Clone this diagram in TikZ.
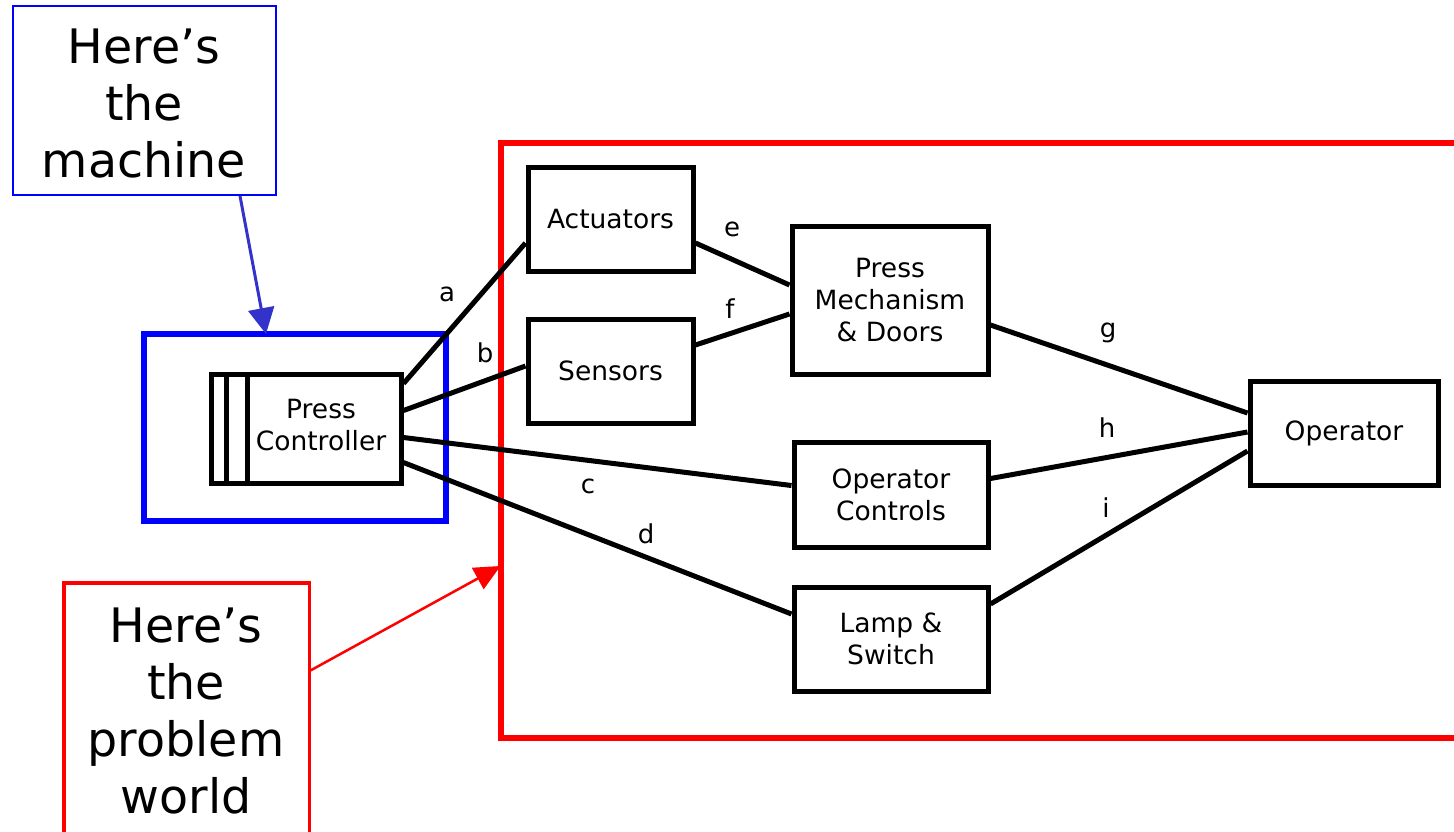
\documentclass[tikz,border=0pt]{standalone}
\usepackage{fontspec}
\setmainfont{DejaVu Sans}
\usetikzlibrary{calc,arrows.meta}
\definecolor{mblue}{RGB}{0,0,255}
\definecolor{arrblue}{RGB}{51,51,204}
\definecolor{mred}{RGB}{255,0,0}
\tikzset{
  box/.style={draw=black, line width=5pt, fill=white, align=center,
    font=\fontsize{26.5}{32}\selectfont, inner sep=0pt},
  link/.style={line width=5pt, black},
  lbl/.style={font=\fontsize{26}{30}\selectfont, inner sep=0pt},
  callout/.style={align=center, font=\fontsize{47.5}{57}\selectfont, inner sep=0pt},
}
\begin{document}
\begin{tikzpicture}[x=1pt,y=-1pt]
\useasboundingbox (0,0) rectangle (1454,831);
\clip (0,0) rectangle (1454,831);

% problem world frame (runs off the right edge)
\draw[mred, line width=6pt] (1470,143) -- (500.5,143) -- (500.5,738) -- (1470,738);
\coordinate (pwedge) at (500.5,566);

% machine frame
\draw[mblue, line width=6pt] (144,334) rectangle (446,521);
\coordinate (mtop) at (266,334);

% domains
\node[box, minimum width=165, minimum height=104] (act) at (610.5,219) {Actuators};
\node[box, minimum width=165, minimum height=104] (sen) at (610.5,371) {Sensors};
\node[box, minimum width=196, minimum height=148] (pmd) at (890,300) {Press\\Mechanism\\\& Doors};
\node[box, minimum width=194, minimum height=105] (oc) at (891,494.5) {Operator\\Controls};
\node[box, minimum width=194, minimum height=104] (ls) at (891,639) {Lamp \&\\Switch};
\node[box, minimum width=188, minimum height=104] (op) at (1344,433) {Operator};

% machine: press controller with double stripe
\node[box, minimum width=190, minimum height=109] (pc) at (306,428.5) {};
\node[align=center, font=\fontsize{26.5}{32}\selectfont, inner sep=0pt] (pctxt) at (321,425) {Press\\Controller};
\draw[line width=5pt] ($(pc.north west)+(18,0)$) -- ($(pc.south west)+(18,0)$);
\draw[line width=5pt] ($(pc.north west)+(39,0)$) -- ($(pc.south west)+(39,0)$);

% shared phenomena
\draw[link] ($(pc.east)+(0,-45)$) -- ($(act.west)+(0,24)$);
\draw[link] ($(pc.east)+(0,-18)$) -- ($(sen.west)+(0,-5)$);
\draw[link] ($(pc.east)+(0,9)$) -- ($(oc.west)+(0,-9)$);
\draw[link] ($(pc.east)+(0,34)$) -- ($(ls.west)+(0,-25)$);
\draw[link] ($(act.east)+(0,24)$) -- ($(pmd.west)+(0,-15)$);
\draw[link] ($(sen.east)+(0,-26)$) -- ($(pmd.west)+(0,14)$);
\draw[link] ($(pmd.east)+(0,25)$) -- ($(op.west)+(0,-20)$);
\draw[link] ($(oc.east)+(0,-16)$) -- ($(op.west)+(0,-1)$);
\draw[link] ($(ls.east)+(0,-35)$) -- ($(op.west)+(0,18)$);

\node[lbl] (la) at (447,294) {a};
\node[lbl] (lb) at (485,353) {b};
\node[lbl] (lc) at (588,486) {c};
\node[lbl] (ld) at (646,534) {d};
\node[lbl] (le) at (732,229) {e};
\node[lbl] (lf) at (730,309) {f};
\node[lbl] (lg) at (1108,333) {g};
\node[lbl] (lh) at (1107,428) {h};
\node[lbl] (li) at (1106,508) {i};

% callouts
\node[draw=mblue, line width=2pt, minimum width=263, minimum height=189, fill=white] (mcall) at (144,100.5) {};
\node[callout] (mtext) at (144,104) {Here’s\\the\\machine};
\draw[arrblue, line width=3pt, -{Triangle[length=26pt,width=26pt]}] (240,196) -- (mtop);

\draw[mred, line width=3.5pt] (64,850) -- (64,583) -- (309.5,583) -- (309.5,850);
\coordinate (pwcall) at (309.5,671);
\node[callout] (ptext) at (186,711) {Here’s\\the\\problem\\world};
\draw[mred, line width=2.5pt, -{Triangle[length=26pt,width=24pt]}] (pwcall) -- (pwedge);
\end{tikzpicture}
\end{document}
